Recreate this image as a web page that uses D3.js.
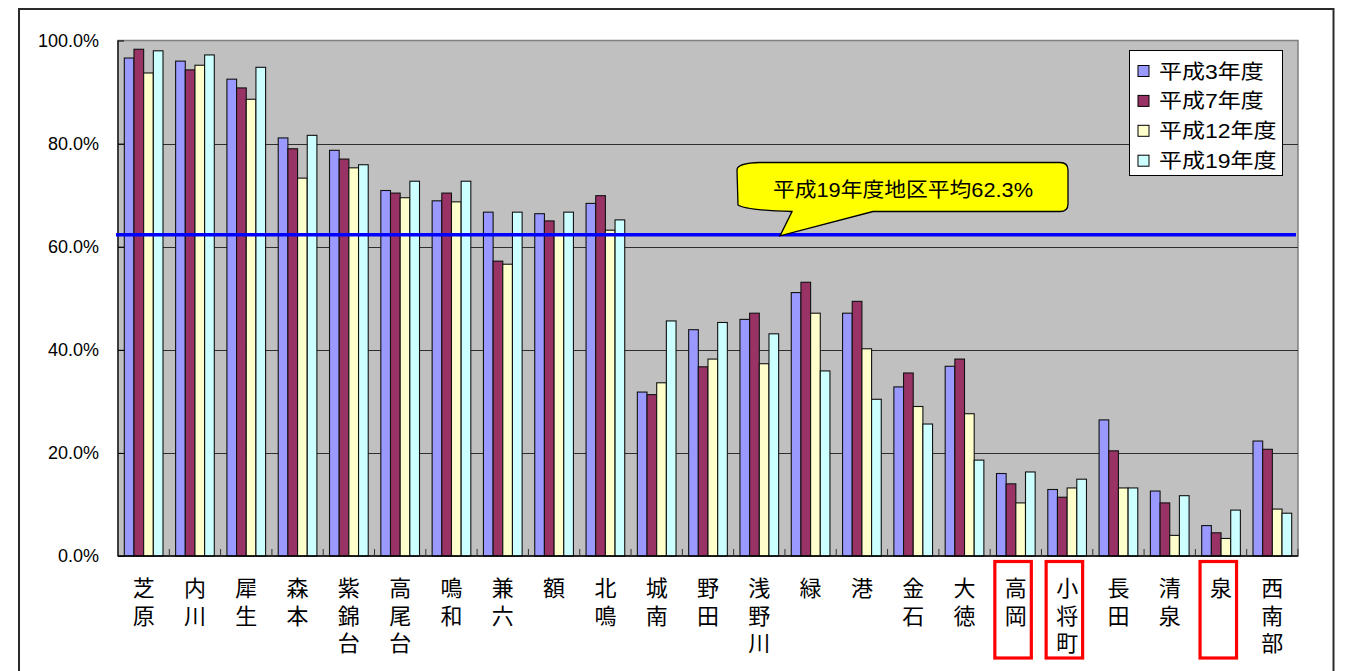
<!DOCTYPE html>
<html>
<head>
<meta charset="utf-8">
<script src="https://cdn.jsdelivr.net/npm/d3@7"></script>
<style>
  html, body { margin: 0; padding: 0; background: #fff; }
  svg { display: block; }
</style>
</head>
<body>
<svg id="chart" width="1349" height="671"></svg>
<script>
// 地区ごとの割合（%）
const categories = ["芝原","内川","犀生","森本","紫錦台","高尾台","鳴和","兼六","額","北鳴","城南","野田","浅野川","緑","港","金石","大徳","高岡","小将町","長田","清泉","泉","西南部"];
const seriesNames = ["平成3年度","平成7年度","平成12年度","平成19年度"];
const valuesH3  = [96.6, 96.0, 92.5, 81.1, 78.7, 70.9, 68.9, 66.7, 66.4, 68.4, 31.8, 43.9, 45.9, 51.1, 47.1, 32.8, 36.8, 16.0, 12.9, 26.4, 12.6, 5.9, 22.3];
const valuesH7  = [98.3, 94.3, 90.8, 79.0, 77.0, 70.4, 70.4, 57.2, 65.0, 69.9, 31.3, 36.7, 47.1, 53.1, 49.4, 35.5, 38.2, 14.0, 11.4, 20.4, 10.3, 4.5, 20.7];
const valuesH12 = [93.7, 95.2, 88.6, 73.3, 75.3, 69.5, 68.7, 56.6, 62.5, 63.2, 33.6, 38.2, 37.3, 47.1, 40.2, 29.0, 27.6, 10.3, 13.2, 13.2, 4.0, 3.4, 9.1];
const valuesH19 = [98.0, 97.2, 94.8, 81.6, 75.9, 72.7, 72.7, 66.7, 66.7, 65.2, 45.6, 45.3, 43.1, 35.9, 30.4, 25.6, 18.6, 16.3, 14.9, 13.2, 11.7, 8.9, 8.3];
const yTicks = [0, 20, 40, 60, 80, 100];
const averageValue = 62.3;
const averageLabel = "平成19年度地区平均62.3%";
const highlighted = ["高岡","小将町","泉"];

const seriesColors = ["#9999FF", "#993366", "#FFFFCC", "#CCFFFF"];
const seriesValues = [valuesH3, valuesH7, valuesH12, valuesH19];

const svg = d3.select("#chart");
const plot = { left: 118, right: 1298, top: 40.5, bottom: 556 };

const x = d3.scaleBand().domain(categories).range([plot.left, plot.right]).paddingInner(0).paddingOuter(0);
const inner = d3.scaleBand().domain(d3.range(seriesNames.length))
  .range([x.bandwidth() * 0.123, x.bandwidth() * 0.877]).padding(0);
const y = d3.scaleLinear().domain([0, 100]).range([plot.bottom, plot.top]);

const cjk = "'Noto Sans CJK JP', 'Noto Sans CJK SC', sans-serif";
const latin = "'Liberation Sans', Arial, 'Noto Sans CJK JP', sans-serif";

// outer frame
svg.append("rect")
  .attr("x", 19).attr("y", 9).attr("width", 1314.5).attr("height", 720)
  .attr("fill", "none").attr("stroke", "#2a2a2a").attr("stroke-width", 2);

// plot background
svg.append("rect")
  .attr("x", plot.left).attr("y", plot.top)
  .attr("width", plot.right - plot.left).attr("height", plot.bottom - plot.top)
  .attr("fill", "#C0C0C0").attr("stroke", "#808080").attr("stroke-width", 1.5);

// gridlines
svg.append("g").selectAll("line")
  .data(yTicks.filter(d => d > 0 && d < 100))
  .join("line")
  .attr("x1", plot.left).attr("x2", plot.right)
  .attr("y1", d => Math.round(y(d)) + 0.5).attr("y2", d => Math.round(y(d)) + 0.5)
  .attr("stroke", "#2e2e2e").attr("stroke-width", 1);

// bars
const groups = svg.append("g").selectAll("g")
  .data(categories)
  .join("g")
  .attr("transform", d => `translate(${x(d)},0)`);

groups.selectAll("rect")
  .data((d, i) => seriesValues.map((vals, s) => ({ s, v: vals[i] })))
  .join("rect")
  .attr("x", d => inner(d.s))
  .attr("width", inner.bandwidth())
  .attr("y", d => y(d.v))
  .attr("height", d => plot.bottom - y(d.v))
  .attr("fill", d => seriesColors[d.s])
  .attr("stroke", "#111").attr("stroke-width", 1.1);

// y axis
const yAxis = d3.axisLeft(y).tickValues(yTicks).tickSize(-6).tickPadding(19)
  .tickFormat(d => d3.format(".1f")(d) + "%");
const yg = svg.append("g").attr("transform", `translate(${plot.left},0)`).call(yAxis);
yg.select(".domain").attr("stroke", "#000").attr("stroke-width", 1.2).attr("d", `M0,${plot.top}V${plot.bottom}`);
yg.selectAll(".tick line").attr("stroke", "#000");
yg.selectAll(".tick text")
  .attr("font-family", latin).attr("font-size", 18).attr("fill", "#000");

// x axis with inner tick marks on group boundaries
svg.append("line")
  .attr("x1", plot.left).attr("x2", plot.right)
  .attr("y1", plot.bottom).attr("y2", plot.bottom)
  .attr("stroke", "#000").attr("stroke-width", 1.5);
svg.append("g").selectAll("line")
  .data(categories.slice(1).concat(["__end"]))
  .join("line")
  .attr("x1", (d, i) => i < categories.length - 1 ? x(d) : plot.right)
  .attr("x2", (d, i) => i < categories.length - 1 ? x(d) : plot.right)
  .attr("y1", plot.bottom).attr("y2", plot.bottom - 7)
  .attr("stroke", "#333").attr("stroke-width", 1);

// category labels, set vertically (top to bottom)
svg.append("g").selectAll("text")
  .data(categories)
  .join("text")
  .attr("font-family", cjk).attr("font-size", 22).attr("fill", "#000")
  .style("writing-mode", "vertical-rl")
  .style("letter-spacing", "5.5px")
  .attr("x", d => x(d) + x.bandwidth() / 2)
  .attr("y", 577)
  .text(d => d);

// red boxes around highlighted districts
svg.append("g").selectAll("rect")
  .data(highlighted)
  .join("rect")
  .attr("x", d => x(d) + x.bandwidth() / 2 - 21)
  .attr("y", 561.5)
  .attr("width", 36.5).attr("height", 96.5)
  .attr("fill", "none").attr("stroke", "#FF0000").attr("stroke-width", 3.2);

// average line
svg.append("line")
  .attr("x1", 116).attr("x2", 1296)
  .attr("y1", y(averageValue)).attr("y2", y(averageValue))
  .attr("stroke", "#0000FF").attr("stroke-width", 3.5);

// callout balloon
const tipX = 780, tipY = y(averageValue) + 1;
svg.append("path")
  .attr("d", `M737,170 Q737,163 760,162.5 L1060,162.5 Q1068,162.5 1068,170 L1068,204 Q1068,211.5 1060,211.5 L873,211.5 L${tipX},${tipY} L792,211.5 Q745,210 738,205 Z`)
  .attr("fill", "#FFFF00").attr("stroke", "#000").attr("stroke-width", 1.3);
svg.append("text")
  .attr("x", 773).attr("y", 197)
  .attr("font-family", latin).attr("font-size", 20.5).attr("fill", "#000")
  .attr("textLength", 260).attr("lengthAdjust", "spacingAndGlyphs")
  .text(averageLabel);

// legend
const legend = svg.append("g");
legend.append("rect")
  .attr("x", 1129.5).attr("y", 50.5).attr("width", 153).attr("height", 125)
  .attr("fill", "#fff").attr("stroke", "#000").attr("stroke-width", 1);
const rows = legend.selectAll("g")
  .data(seriesNames)
  .join("g")
  .attr("transform", (d, i) => `translate(0,${71 + i * 29.9})`);
rows.append("rect")
  .attr("x", 1138).attr("y", -5.5).attr("width", 11).attr("height", 11)
  .attr("fill", (d, i) => seriesColors[i]).attr("stroke", "#000").attr("stroke-width", 1);
rows.append("text")
  .attr("x", 1159).attr("y", 7.5)
  .attr("font-family", latin).attr("font-size", 20.5).attr("fill", "#000")
  .text(d => d)
  .each(function () {
    // the legend face runs wider than the installed fonts
    const w = this.getComputedTextLength();
    d3.select(this).attr("textLength", w * 1.12).attr("lengthAdjust", "spacingAndGlyphs");
  });
</script>
</body>
</html>
